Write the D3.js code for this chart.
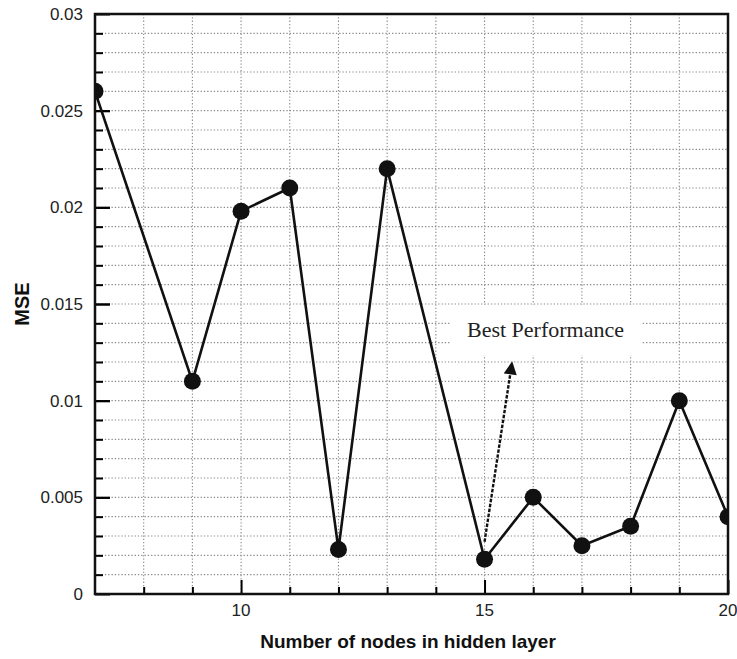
<!DOCTYPE html>
<html>
<head>
<meta charset="utf-8">
<script src="https://d3js.org/d3.v7.min.js"></script>
<style>
  body { margin: 0; background: #fff; }
  text { font-family: "Liberation Sans", Arial, sans-serif; }
</style>
</head>
<body>
<script>
// hidden layer nodes vs MSE
const nodes = [7, 9, 10, 11, 12, 13, 15, 16, 17, 18, 19, 20];
const mse = [0.026, 0.011, 0.0198, 0.021, 0.0023, 0.022, 0.0018, 0.005, 0.0025, 0.0035, 0.010, 0.004];
const yMajor = [0, 0.005, 0.01, 0.015, 0.02, 0.025, 0.03];
const yLabels = ['0', '0.005', '0.01', '0.015', '0.02', '0.025', '0.03'];
const xMajor = [10, 15, 20];
const noteText = 'Best Performance';
const arrowFrom = [15, 0.0027];
const arrowTo = [15.56, 0.0119];

const w = 737, h = 659;
const m = {top: 14, right: 9, bottom: 65, left: 95};

const svg = d3.select('body').append('svg')
  .attr('width', w)
  .attr('height', h);

const x = d3.scaleLinear().domain([7, 20]).range([m.left, w - m.right]);
const y = d3.scaleLinear().domain([0, 0.03]).range([h - m.bottom, m.top]);

// grid, dotted
const xMinor = d3.range(8, 20);
const yMinor = d3.range(1, 30).map(d => d / 1000);
const grid = svg.append('g')
  .attr('stroke', '#8a8a8a')
  .attr('stroke-width', 1.1)
  .attr('stroke-dasharray', '1.3,2');
grid.selectAll('line.v').data(xMinor).enter().append('line')
  .attr('x1', d => x(d)).attr('x2', d => x(d))
  .attr('y1', y(0.03)).attr('y2', y(0));
grid.selectAll('line.h').data(yMinor).enter().append('line')
  .attr('x1', x(7)).attr('x2', x(20))
  .attr('y1', d => y(d)).attr('y2', d => y(d));

// label box hides grid behind it
svg.append('rect')
  .attr('x', x(14.29)).attr('y', y(0.01495))
  .attr('width', x(18.21) - x(14.29))
  .attr('height', y(0.01236) - y(0.01495))
  .attr('fill', '#fff');

// axes with inward ticks
const yAxis = d3.axisLeft(y)
  .tickValues(yMinor.concat(yMajor))
  .tickSize(-7)
  .tickFormat('');
svg.append('g')
  .attr('transform', `translate(${m.left},0)`)
  .call(yAxis)
  .call(g => g.selectAll('.tick line')
    .attr('stroke-width', 2)
    .attr('x2', d => yMajor.some(v => Math.abs(v - d) < 1e-9) ? 15 : 8))
  .call(g => g.select('.domain').remove());

const xAxis = d3.axisBottom(x)
  .tickValues(d3.range(8, 21))
  .tickSize(-7)
  .tickFormat('');
svg.append('g')
  .attr('transform', `translate(0,${h - m.bottom})`)
  .call(xAxis)
  .call(g => g.selectAll('.tick line')
    .attr('stroke-width', 2)
    .attr('y2', d => xMajor.includes(d) ? -14 : -7))
  .call(g => g.select('.domain').remove());

// tick labels
svg.append('g').selectAll('text').data(yMajor).enter().append('text')
  .attr('x', m.left - 12)
  .attr('y', d => y(d) + 6)
  .attr('text-anchor', 'end')
  .attr('font-size', 17)
  .attr('fill', '#222')
  .text((d, i) => yLabels[i]);
svg.append('g').selectAll('text').data(xMajor).enter().append('text')
  .attr('x', d => x(d))
  .attr('y', h - m.bottom + 22)
  .attr('text-anchor', 'middle')
  .attr('font-size', 17)
  .attr('fill', '#222')
  .text(d => d);

// frame
svg.append('rect')
  .attr('x', x(7)).attr('y', y(0.03))
  .attr('width', x(20) - x(7))
  .attr('height', y(0) - y(0.03))
  .attr('fill', 'none')
  .attr('stroke', '#111')
  .attr('stroke-width', 2.5);

// series
svg.append('clipPath').attr('id', 'plot')
  .append('rect')
  .attr('x', x(7)).attr('y', y(0.03) - 10)
  .attr('width', x(20) - x(7))
  .attr('height', y(0) - y(0.03) + 20);

const pts = nodes.map((n, i) => [n, mse[i]]);
const plot = svg.append('g').attr('clip-path', 'url(#plot)');
plot.append('path')
  .datum(pts)
  .attr('fill', 'none')
  .attr('stroke', '#111')
  .attr('stroke-width', 2.6)
  .attr('d', d3.line().x(d => x(d[0])).y(d => y(d[1])));
plot.selectAll('circle').data(pts).enter().append('circle')
  .attr('cx', d => x(d[0]))
  .attr('cy', d => y(d[1]))
  .attr('r', 8.5)
  .attr('fill', '#111');

// annotation arrow
svg.append('defs').append('marker')
  .attr('id', 'head')
  .attr('viewBox', '0 0 10 10')
  .attr('refX', 8).attr('refY', 5)
  .attr('markerWidth', 6).attr('markerHeight', 5.5)
  .attr('markerUnits', 'strokeWidth')
  .attr('orient', 'auto')
  .append('path')
  .attr('d', 'M0,0 L10,5 L0,10 Z')
  .attr('fill', '#111');
svg.append('line')
  .attr('x1', x(arrowFrom[0])).attr('y1', y(arrowFrom[1]))
  .attr('x2', x(arrowTo[0])).attr('y2', y(arrowTo[1]))
  .attr('stroke', '#111')
  .attr('stroke-width', 2.4)
  .attr('stroke-dasharray', '3.5,1.5')
  .attr('marker-end', 'url(#head)');

svg.append('text')
  .attr('x', x(14.64))
  .attr('y', y(0.0133))
  .style('font-family', '"Liberation Serif", "Times New Roman", serif')
  .attr('font-size', 22)
  .attr('fill', '#222')
  .text(noteText);

// axis titles
svg.append('text')
  .attr('transform', `translate(29,${(y(0) + y(0.03)) / 2}) rotate(-90)`)
  .attr('text-anchor', 'middle')
  .attr('font-size', 20)
  .attr('font-weight', 'bold')
  .attr('fill', '#111')
  .text('MSE');
svg.append('text')
  .attr('x', 408)
  .attr('y', 648)
  .attr('text-anchor', 'middle')
  .attr('font-size', 19)
  .attr('font-weight', 'bold')
  .attr('fill', '#111')
  .text('Number of nodes in hidden layer');
</script>
</body>
</html>
